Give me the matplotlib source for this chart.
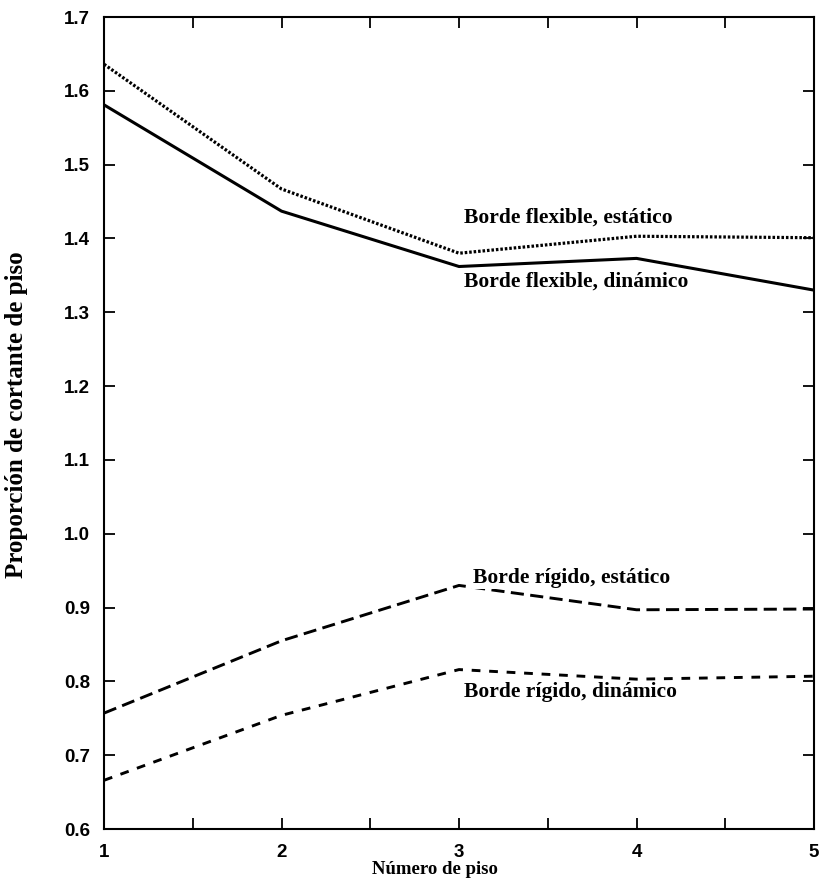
import numpy as np
import matplotlib
matplotlib.use("Agg")
import matplotlib.pyplot as plt

# pisos y proporciones
pisos = [1, 2, 3, 4, 5]
flex_estatico = [1.636, 1.467, 1.380, 1.403, 1.401]
flex_dinamico = [1.581, 1.437, 1.362, 1.373, 1.330]
rig_estatico  = [0.757, 0.855, 0.930, 0.897, 0.898]
rig_dinamico  = [0.666, 0.754, 0.816, 0.803, 0.807]

SERIF = ["Liberation Serif", "DejaVu Serif"]
SANS = ["Liberation Sans", "DejaVu Sans"]

fig = plt.figure(figsize=(8.21, 8.81), dpi=100)
ax = fig.add_axes([0.1267, 0.059, 0.8648, 0.9217])

ax.plot(pisos, flex_estatico, color="k", lw=2.3, ls=(0, (0.8, 0.6)))
ax.plot(pisos, flex_dinamico, color="k", lw=2.2, ls="-")
ax.plot(pisos, rig_estatico, color="k", lw=2.1, ls=(0, (4.5, 2.2)))
ax.plot(pisos, rig_dinamico, color="k", lw=2.1, ls=(0, (3.0, 3.0)))

box = dict(facecolor="white", edgecolor="none", pad=1.0)
ax.text(3.03, 1.428, "Borde flexible, estático", family=SERIF, weight="bold",
        fontsize=15.5, va="center", ha="left")
ax.text(3.03, 1.342, "Borde flexible, dinámico", family=SERIF, weight="bold",
        fontsize=15.5, va="center", ha="left", bbox=box)
ax.text(3.08, 0.940, "Borde rígido, estático", family=SERIF, weight="bold",
        fontsize=15.5, va="center", ha="left", bbox=box)
ax.text(3.03, 0.785, "Borde rígido, dinámico", family=SERIF, weight="bold",
        fontsize=15.5, va="center", ha="left")

ax.set_xlim(1, 5)
ax.set_ylim(0.6, 1.7)
ax.set_xticks(pisos)
ax.set_xticks([1.5, 2.5, 3.5, 4.5], minor=True)
ax.set_yticks(np.arange(0.6, 1.71, 0.1))
ax.set_yticklabels(["%.1f" % v for v in np.arange(0.6, 1.71, 0.1)])
ax.tick_params(which="both", direction="in", top=True, right=True,
               width=1.3, labelsize=13.5)
ax.tick_params(which="major", length=8)
ax.tick_params(which="minor", length=8)
ax.tick_params(axis="x", pad=11)
ax.tick_params(axis="y", pad=10)
for lab in ax.get_xticklabels() + ax.get_yticklabels():
    lab.set_family(SANS)
    lab.set_weight("bold")
for s in ax.spines.values():
    s.set_linewidth(1.5)

fig.text(435 / 821, 1 - 870 / 881, "Número de piso", family=SERIF,
         weight="bold", fontsize=13.5, ha="center", va="center")
fig.text(17 / 821, 1 - 415 / 881, "Proporción de cortante de piso",
         family=SERIF, weight="bold", fontsize=18, rotation=90,
         ha="center", va="center")

fig.savefig("out.png", dpi=100)
